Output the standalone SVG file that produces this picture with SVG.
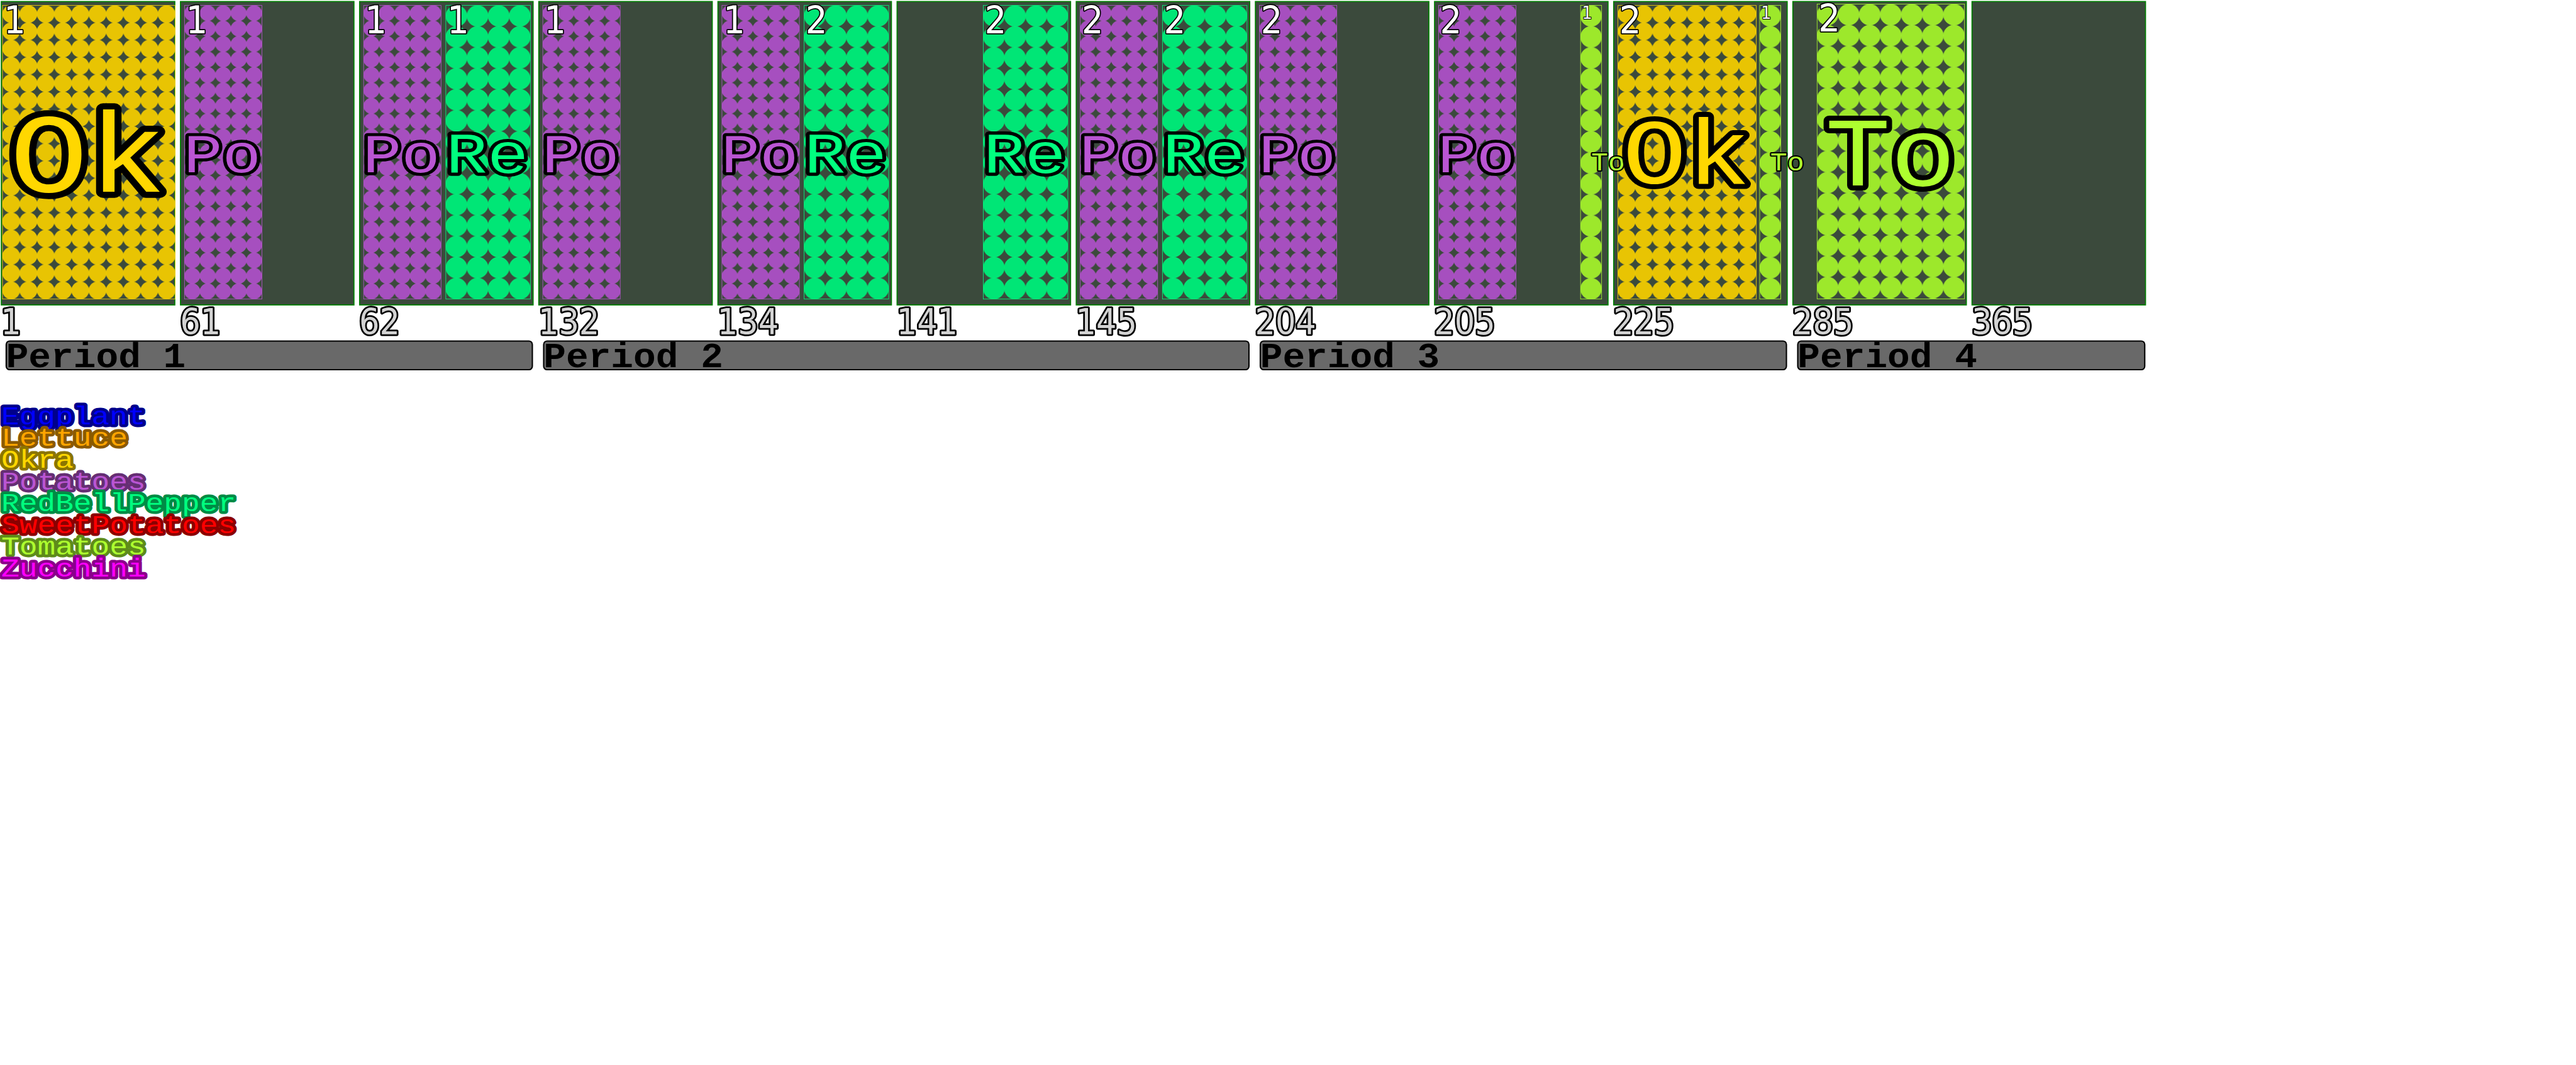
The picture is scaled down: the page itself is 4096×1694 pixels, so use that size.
<svg xmlns="http://www.w3.org/2000/svg" width="4096" height="1694" viewBox="0 0 4096 1694">
<defs>
<style>
.panel{fill:#3b4a3c;stroke:#008000;stroke-width:2.5}
.bed{stroke-width:1.2}
.ok{fill:url(#pOk);stroke:#ffd700}
.po{fill:url(#pPo);stroke:#ba55d3}
.re{fill:url(#pRe);stroke:#00ff7f}
.to{fill:url(#pTo);stroke:#adff2f}
.date{font-family:"DejaVu Sans Condensed","DejaVu Sans",sans-serif;font-stretch:condensed;font-size:82px;fill:#d3d3d3;stroke:#000;stroke-width:8;paint-order:stroke;stroke-linejoin:round}
.cnt{font-family:"DejaVu Sans Condensed","DejaVu Sans",sans-serif;font-stretch:condensed;font-size:88px;fill:#fff;stroke:#000;stroke-width:5;paint-order:stroke;stroke-linejoin:round}
.cnts{font-size:42px;stroke-width:3}
.bar{fill:#696969;stroke:#000;stroke-width:3}
.ptxt{font-family:"Liberation Mono",monospace;font-weight:bold;font-size:80px;fill:#000}
.leg{font-family:"Liberation Mono",monospace;font-size:60px;stroke-width:13;paint-order:stroke;stroke-linejoin:round}
.lab{font-family:"Liberation Mono",monospace;paint-order:stroke;stroke:#000;stroke-linejoin:round;text-anchor:middle}
.labs{text-anchor:start}
.fOk{fill:#ffd700}.fPo{fill:#ba55d3}.fRe{fill:#00ff7f}.fTo{fill:#adff2f}
</style>
<pattern id="pOk" patternUnits="userSpaceOnUse" width="39.73" height="39.735"><ellipse cx="19.865" cy="19.8675" rx="19.865" ry="19.8675" fill="#e8c403" stroke="#ffd700" stroke-width="1"/></pattern>
<pattern id="pPo" patternUnits="userSpaceOnUse" width="35.6" height="35.55"><ellipse cx="17.8" cy="17.775" rx="17.8" ry="17.775" fill="#a64fbf" stroke="#ba55d3" stroke-width="1"/></pattern>
<pattern id="pRe" patternUnits="userSpaceOnUse" width="48.625" height="48.25"><ellipse cx="24.3125" cy="24.125" rx="24.3125" ry="24.125" fill="#00e676" stroke="#00ff7f" stroke-width="1"/></pattern>
<pattern id="pTo" patternUnits="userSpaceOnUse" width="48.43" height="48.3"><ellipse cx="24.215" cy="24.15" rx="24.215" ry="24.15" fill="#9de82b" stroke="#adff2f" stroke-width="1"/></pattern>
</defs>
<g transform="scale(0.691425)">
<g id="panels">
<g id="panel-day1">
<rect class="panel" x="3" y="3.5" width="399" height="698"/>
<rect class="bed ok" transform="translate(5.75,12.5)" width="397" height="675.5"/>
<text class="cnt" x="8.75" y="76">1</text>
<text class="date" x="2" y="769">1</text>
</g>
<g id="panel-day61">
<rect class="panel" x="415" y="3.5" width="399" height="698"/>
<rect class="bed po" transform="translate(424.25,12.5)" width="178" height="675.5"/>
<text class="cnt" x="427.25" y="76">1</text>
<text class="date" x="414" y="769">61</text>
</g>
<g id="panel-day62">
<rect class="panel" x="827" y="3.5" width="399" height="698"/>
<rect class="bed po" transform="translate(836.25,12.5)" width="178" height="675.5"/>
<rect class="bed re" transform="translate(1025.25,12.5)" width="194.5" height="675.5"/>
<text class="cnt" x="839.25" y="76">1</text>
<text class="cnt" x="1028.25" y="76">1</text>
<text class="date" x="826" y="769">62</text>
</g>
<g id="panel-day132">
<rect class="panel" x="1239" y="3.5" width="399" height="698"/>
<rect class="bed po" transform="translate(1248.25,12.5)" width="178" height="675.5"/>
<text class="cnt" x="1251.25" y="76">1</text>
<text class="date" x="1238" y="769">132</text>
</g>
<g id="panel-day134">
<rect class="panel" x="1651" y="3.5" width="399" height="698"/>
<rect class="bed po" transform="translate(1660.25,12.5)" width="178" height="675.5"/>
<rect class="bed re" transform="translate(1849.25,12.5)" width="194.5" height="675.5"/>
<text class="cnt" x="1663.25" y="76">1</text>
<text class="cnt" x="1852.25" y="76">2</text>
<text class="date" x="1650" y="769">134</text>
</g>
<g id="panel-day141">
<rect class="panel" x="2063" y="3.5" width="399" height="698"/>
<rect class="bed re" transform="translate(2261.25,12.5)" width="194.5" height="675.5"/>
<text class="cnt" x="2264.25" y="76">2</text>
<text class="date" x="2062" y="769">141</text>
</g>
<g id="panel-day145">
<rect class="panel" x="2475" y="3.5" width="399" height="698"/>
<rect class="bed po" transform="translate(2484.25,12.5)" width="178" height="675.5"/>
<rect class="bed re" transform="translate(2673.25,12.5)" width="194.5" height="675.5"/>
<text class="cnt" x="2487.25" y="76">2</text>
<text class="cnt" x="2676.25" y="76">2</text>
<text class="date" x="2474" y="769">145</text>
</g>
<g id="panel-day204">
<rect class="panel" x="2887" y="3.5" width="399" height="698"/>
<rect class="bed po" transform="translate(2896.25,12.5)" width="178" height="675.5"/>
<text class="cnt" x="2899.25" y="76">2</text>
<text class="date" x="2886" y="769">204</text>
</g>
<g id="panel-day205">
<rect class="panel" x="3299" y="3.5" width="399" height="698"/>
<rect class="bed po" transform="translate(3308.25,12.5)" width="178" height="675.5"/>
<rect class="bed to" transform="translate(3634.75,12.5)" width="48.5" height="675.5"/>
<text class="cnt" x="3311.25" y="76">2</text>
<text class="cnt cnts" x="3637.75" y="43">1</text>
<text class="date" x="3298" y="769">205</text>
</g>
<g id="panel-day225">
<rect class="panel" x="3711" y="3.5" width="399" height="698"/>
<rect class="bed ok" transform="translate(3720.75,12.5)" width="318" height="675.5"/>
<rect class="bed to" transform="translate(4046.75,12.5)" width="48.5" height="675.5"/>
<text class="cnt" x="3723.75" y="76">2</text>
<text class="cnt cnts" x="4049.75" y="43">1</text>
<text class="date" x="3710" y="769">225</text>
</g>
<g id="panel-day285">
<rect class="panel" x="4123" y="3.5" width="399" height="698"/>
<rect class="bed to" transform="translate(4178.75,9.5)" width="339" height="678"/>
<text class="cnt" x="4181.75" y="73">2</text>
<text class="date" x="4122" y="769">285</text>
</g>
<g id="panel-day365">
<rect class="panel" x="4535" y="3.5" width="399" height="698"/>
<text class="date" x="4534" y="769">365</text>
</g>
</g>
<g id="crop-labels">
<text class="lab fOk" x="202.5" y="441" font-size="260" stroke-width="28" textLength="360" lengthAdjust="spacingAndGlyphs">Ok</text>
<text class="lab fPo" x="511.25" y="396" font-size="127" stroke-width="14" textLength="178" lengthAdjust="spacingAndGlyphs">Po</text>
<text class="lab fPo" x="923.25" y="396" font-size="127" stroke-width="14" textLength="178" lengthAdjust="spacingAndGlyphs">Po</text>
<text class="lab fRe" x="1120.5" y="397.5" font-size="132" stroke-width="15" textLength="190" lengthAdjust="spacingAndGlyphs">Re</text>
<text class="lab fPo" x="1335.25" y="396" font-size="127" stroke-width="14" textLength="178" lengthAdjust="spacingAndGlyphs">Po</text>
<text class="lab fPo" x="1747.25" y="396" font-size="127" stroke-width="14" textLength="178" lengthAdjust="spacingAndGlyphs">Po</text>
<text class="lab fRe" x="1944.5" y="397.5" font-size="132" stroke-width="15" textLength="190" lengthAdjust="spacingAndGlyphs">Re</text>
<text class="lab fRe" x="2356.5" y="397.5" font-size="132" stroke-width="15" textLength="190" lengthAdjust="spacingAndGlyphs">Re</text>
<text class="lab fPo" x="2571.25" y="396" font-size="127" stroke-width="14" textLength="178" lengthAdjust="spacingAndGlyphs">Po</text>
<text class="lab fRe" x="2768.5" y="397.5" font-size="132" stroke-width="15" textLength="190" lengthAdjust="spacingAndGlyphs">Re</text>
<text class="lab fPo" x="2983.25" y="396" font-size="127" stroke-width="14" textLength="178" lengthAdjust="spacingAndGlyphs">Po</text>
<text class="lab fPo" x="3395.25" y="396" font-size="127" stroke-width="14" textLength="178" lengthAdjust="spacingAndGlyphs">Po</text>
<text class="lab labs fTo" x="3659" y="392" font-size="60" stroke-width="6" textLength="78" lengthAdjust="spacingAndGlyphs">To</text>
<text class="lab fOk" x="3878.5" y="423" font-size="212" stroke-width="23" textLength="294" lengthAdjust="spacingAndGlyphs">Ok</text>
<text class="lab labs fTo" x="4071" y="392" font-size="60" stroke-width="6" textLength="78" lengthAdjust="spacingAndGlyphs">To</text>
<text class="lab fTo" x="4347.5" y="427" font-size="225" stroke-width="23.5" textLength="300" lengthAdjust="spacingAndGlyphs">To</text>
</g>
<g id="periods">
<g id="period-1"><rect class="bar" x="14.25" y="784.5" width="1210" height="66" rx="8"/><text class="ptxt" x="14" y="845" textLength="413" lengthAdjust="spacingAndGlyphs">Period 1</text></g>
<g id="period-2"><rect class="bar" x="1250.25" y="784.5" width="1622" height="66" rx="8"/><text class="ptxt" x="1250" y="845" textLength="413" lengthAdjust="spacingAndGlyphs">Period 2</text></g>
<g id="period-3"><rect class="bar" x="2898.25" y="784.5" width="1210" height="66" rx="8"/><text class="ptxt" x="2898" y="845" textLength="413" lengthAdjust="spacingAndGlyphs">Period 3</text></g>
<g id="period-4"><rect class="bar" x="4134.25" y="784.5" width="798" height="66" rx="8"/><text class="ptxt" x="4134" y="845" textLength="413" lengthAdjust="spacingAndGlyphs">Period 4</text></g>
</g>
<g id="legend">
<text class="leg" x="3" y="976" fill="#0000ff" stroke="#00008b" textLength="332" lengthAdjust="spacingAndGlyphs">Eggplant</text>
<text class="leg" x="3" y="1026" fill="#ffa500" stroke="#8b5a00" textLength="290.5" lengthAdjust="spacingAndGlyphs">Lettuce</text>
<text class="leg" x="3" y="1076" fill="#ffd700" stroke="#8b7500" textLength="166" lengthAdjust="spacingAndGlyphs">Okra</text>
<text class="leg" x="3" y="1126" fill="#ba55d3" stroke="#652e73" textLength="332" lengthAdjust="spacingAndGlyphs">Potatoes</text>
<text class="leg" x="3" y="1176" fill="#00ff7f" stroke="#008b45" textLength="539.5" lengthAdjust="spacingAndGlyphs">RedBellPepper</text>
<text class="leg" x="3" y="1226" fill="#ff0000" stroke="#8b0000" textLength="539.5" lengthAdjust="spacingAndGlyphs">SweetPotatoes</text>
<text class="leg" x="3" y="1276" fill="#adff2f" stroke="#5e8b1a" textLength="332" lengthAdjust="spacingAndGlyphs">Tomatoes</text>
<text class="leg" x="3" y="1326" fill="#ff00ff" stroke="#8b008b" textLength="332" lengthAdjust="spacingAndGlyphs">Zucchini</text>
</g>
</g>
</svg>
